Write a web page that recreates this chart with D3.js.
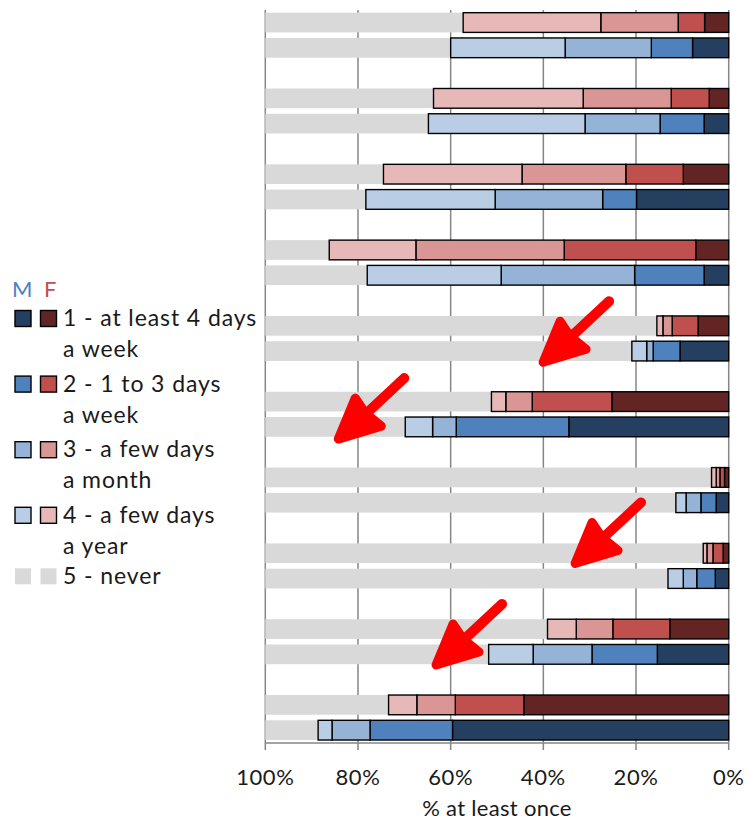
<!DOCTYPE html>
<html lang="en">
<head>
<meta charset="utf-8">
<title>Frequency, M vs F</title>
<script src="https://d3js.org/d3.v7.min.js"></script>
<style>
  body { margin: 0; background: #fff; }
  text { font-family: Lato, "Open Sans", sans-serif; fill: #1a1a1a; }
</style>
</head>
<body>
<script>
// groups are drawn top to bottom, F row above M row in each
var groups = ["g1", "g2", "g3", "g4", "g5", "g6", "g7", "g8", "g9", "g10"];
var sexes = ["F", "M"];
var cats = ["c1", "c2", "c3", "c4", "never"];
var legendLines = [
  ["1 - at least 4 days", "a week"],
  ["2 - 1 to 3 days", "a week"],
  ["3 - a few days", "a month"],
  ["4 - a few days", "a year"],
  ["5 - never"]
];
var ticks = [100, 80, 60, 40, 20, 0];

// percentages
var F_c1 = [5.2, 4.2, 9.8, 7.1, 6.6, 25.2, 0.9, 1.2, 12.7, 44.2];
var F_c2 = [5.7, 8.2, 12.4, 28.4, 5.6, 17.2, 1.0, 2.2, 12.3, 14.8];
var F_c3 = [16.7, 19.0, 22.4, 32.0, 2.0, 5.7, 0.8, 1.3, 7.9, 8.3];
var F_c4 = [29.7, 32.3, 29.9, 18.7, 1.3, 3.1, 1.0, 0.8, 6.2, 6.1];
var F_never = [42.7, 36.3, 25.5, 13.8, 84.5, 48.8, 96.3, 94.5, 60.9, 26.6];

var M_c1 = [7.8, 5.3, 19.9, 5.3, 10.5, 34.5, 2.7, 2.9, 15.4, 59.6];
var M_c2 = [8.9, 9.5, 7.3, 15.0, 5.8, 24.3, 3.3, 4.0, 14.1, 17.8];
var M_c3 = [18.6, 16.2, 23.2, 28.8, 1.4, 5.1, 3.2, 2.9, 12.7, 8.2];
var M_c4 = [24.7, 33.8, 27.9, 28.9, 3.2, 5.9, 2.2, 3.3, 9.6, 3.0];
var M_never = [40.0, 35.2, 21.7, 22.0, 79.1, 30.2, 88.6, 86.9, 48.2, 11.4];

// red arrows pasted on the chart: tip at pct, inside group band at fraction "at"
var arrows = [
  { pct: 40.7, group: 4, at: 1.05 },
  { pct: 84.9, group: 5, at: 1.07 },
  { pct: 33.8, group: 7, at: 0.53 },
  { pct: 63.8, group: 8, at: 1.04 }
];

var colors = {
  M: { c1: "#243f60", c2: "#4f81bd", c3: "#95b3d7", c4: "#b9cde5", never: "#d9d9d9" },
  F: { c1: "#632523", c2: "#c0504d", c3: "#d99694", c4: "#e6b9b8", never: "#d9d9d9" }
};

var width = 749, height = 820;

var rows = groups.map(function(g, i) {
  return {
    group: g,
    F: { c1: F_c1[i], c2: F_c2[i], c3: F_c3[i], c4: F_c4[i], never: F_never[i] },
    M: { c1: M_c1[i], c2: M_c2[i], c3: M_c3[i], c4: M_c4[i], never: M_never[i] }
  };
});

var svg = d3.select("body").append("svg")
  .attr("width", width)
  .attr("height", height);

var x = d3.scaleLinear().domain([0, 100]).range([728.7, 265.3]);

var yG = d3.scaleBand().domain(groups).range([9.9, 742.8])
  .paddingInner(1 / 3).paddingOuter(0);
var yS = d3.scaleBand().domain(sexes).range([0, yG.bandwidth()])
  .paddingInner(0.22).paddingOuter(0.11);

// grid
var grid = svg.append("g");
grid.selectAll("line").data(ticks).enter().append("line")
  .attr("x1", function(d) { return x(d); })
  .attr("x2", function(d) { return x(d); })
  .attr("y1", 10).attr("y2", 750)
  .attr("stroke", "#868686").attr("stroke-width", 1.5);
grid.append("line")
  .attr("x1", x(100)).attr("x2", x(0))
  .attr("y1", 743).attr("y2", 743)
  .attr("stroke", "#868686").attr("stroke-width", 1.5);

// bars
var stack = d3.stack().keys(cats);

sexes.forEach(function(s) {
  var series = stack(rows.map(function(r) { return Object.assign({ group: r.group }, r[s]); }));
  var layer = svg.append("g");
  series.forEach(function(ser) {
    var k = ser.key;
    layer.selectAll(null).data(ser).enter().append("rect")
      .attr("x", function(d) { return x(d[1]); })
      .attr("width", function(d) { return x(d[0]) - x(d[1]); })
      .attr("y", function(d) { return yG(d.data.group) + yS(s); })
      .attr("height", yS.bandwidth())
      .attr("fill", colors[s][k])
      .attr("stroke", k === "never" ? "none" : "#000")
      .attr("stroke-width", k === "never" ? 0 : 1.4);
  });
  // keep coloured segments above the gray ones
  layer.selectAll("rect").filter(function() { return d3.select(this).attr("stroke") !== "none"; }).raise();
});

// x axis labels
svg.append("g").selectAll("text").data(ticks).enter().append("text")
  .attr("x", function(d) { return x(d); })
  .attr("y", 785)
  .attr("text-anchor", "middle")
  .attr("font-size", 22)
  .attr("letter-spacing", 0.6)
  .text(function(d) { return d + "%"; });

svg.append("text")
  .attr("x", (x(0) + x(100)) / 2)
  .attr("y", 816)
  .attr("text-anchor", "middle")
  .attr("font-size", 22)
  .attr("letter-spacing", 0.3)
  .text("% at least once");

// legend
var lg = svg.append("g");
lg.append("text").attr("x", 12).attr("y", 297).attr("font-size", 22)
  .style("fill", "#4f81bd").text("M");
lg.append("text").attr("x", 44).attr("y", 297).attr("font-size", 22)
  .style("fill", "#c0504d").text("F");

var base = 326;
cats.forEach(function(k, i) {
  var by = i < 4 ? base + i * 65.6 : base + 3 * 65.6 + 61;
  var item = lg.append("g");
  ["M", "F"].forEach(function(s, j) {
    item.append("rect")
      .attr("x", 15 + j * 25.5).attr("y", by - 15.5)
      .attr("width", 16).attr("height", 16)
      .attr("fill", colors[s][k])
      .attr("stroke", k === "never" ? "none" : "#000")
      .attr("stroke-width", 1.4);
  });
  legendLines[i].forEach(function(line, li) {
    item.append("text")
      .attr("x", 63).attr("y", by + li * 31)
      .attr("font-size", 23)
      .attr("letter-spacing", 0.9)
      .text(line);
  });
});

// arrows
var ag = svg.append("g");
arrows.forEach(function(a) {
  var tx = x(a.pct);
  var ty = yG(groups[a.group]) + a.at * yG.bandwidth();
  var g = ag.append("g").attr("transform", "translate(" + tx + "," + ty + ")");
  g.append("line")
    .attr("x1", 24).attr("y1", -23).attr("x2", 69).attr("y2", -65)
    .attr("stroke", "#ff0000").attr("stroke-width", 10)
    .attr("stroke-linecap", "round");
  g.append("path")
    .attr("d", "M3,-4 L20,-45 L30,-30 L46,-17 Z")
    .attr("fill", "#ff0000").attr("stroke", "#ff0000")
    .attr("stroke-width", 9).attr("stroke-linejoin", "round");
});
</script>
</body>
</html>
